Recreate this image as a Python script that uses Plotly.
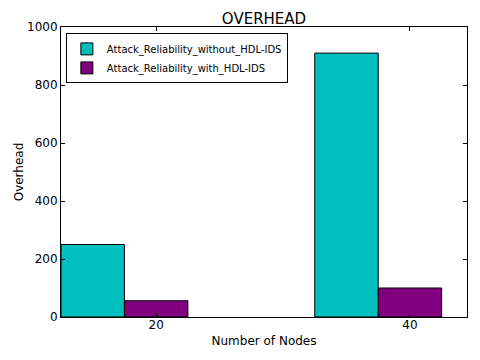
import numpy as np
import plotly.graph_objects as go

categories = ["20", "40"]
without_ids = [250, 910]
with_ids = [56, 100]
series_names = ["Attack_Reliability_without_HDL-IDS", "Attack_Reliability_with_HDL-IDS"]

index = np.arange(len(categories))
width = 0.25

fig = go.Figure()
fig.add_trace(go.Bar(x=index + width / 2, y=without_ids, width=width, name=series_names[0],
                     marker=dict(color="#00bfbf", line=dict(color="black", width=1))))
fig.add_trace(go.Bar(x=index + 1.5 * width, y=with_ids, width=width, name=series_names[1],
                     marker=dict(color="#800080", line=dict(color="black", width=1))))

# page body has an 8px default margin, so the figure is 8px smaller and offset
W, H = 472, 352
font = "DejaVu Sans, Arial, sans-serif"
fig.update_layout(
    width=W, height=H,
    margin=dict(l=53, r=13, t=19, b=43, autoexpand=False),
    paper_bgcolor="white", plot_bgcolor="white",
    font=dict(family=font, size=12, color="black"),
    title=dict(text="OVERHEAD", x=256 / W, xanchor="center", y=1 - 11 / H, yanchor="middle",
               yref="container", font=dict(size=15, family=font, color="black")),
    barmode="overlay",
    showlegend=True,
    legend=dict(x=0.012, y=0.978, xanchor="left", yanchor="top",
                bordercolor="black", borderwidth=1, bgcolor="white",
                font=dict(size=10, family=font), itemwidth=30,
                tracegroupgap=0),
    xaxis=dict(range=[0, 1.6], tickvals=index + 1.5 * width, ticktext=categories,
               ticks="inside", ticklen=4, tickcolor="black", showline=True, linecolor="black",
               mirror="ticks", showgrid=False, zeroline=False, automargin=False,
               ticklabelstandoff=-3,
               title=dict(text="Number of Nodes", font=dict(size=12), standoff=5),
               tickfont=dict(size=12)),
    yaxis=dict(range=[0, 1000], dtick=200, ticks="inside", ticklen=4, tickcolor="black",
               showline=True, linecolor="black", mirror="ticks", showgrid=False, zeroline=False,
               automargin=False,
               title=dict(text="Overhead", font=dict(size=12), standoff=0),
               tickfont=dict(size=12)),
)

fig.write_html("out.html")
